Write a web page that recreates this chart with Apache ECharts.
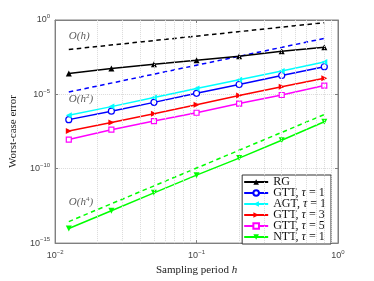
<!DOCTYPE html>
<html><head><meta charset="utf-8">
<script src="https://cdn.jsdelivr.net/npm/echarts@6/dist/echarts.min.js"></script>
<style>html,body{margin:0;padding:0;background:#fff}#c{width:374px;height:281px}</style>
</head><body><div id="c"></div>
<script>
const hValues = [0.0125, 0.025, 0.05, 0.1, 0.2, 0.4, 0.8];
const rg   = [2.5e-4, 5.4e-4, 1.07e-3, 1.95e-3, 3.7e-3, 7.9e-3, 1.45e-2];
const gtt1 = [2.0e-7, 7.4e-7, 2.9e-6, 1.17e-5, 4.6e-5, 1.86e-4, 7.2e-4];
const agt1 = [3.9e-7, 1.5e-6, 6.2e-6, 2.5e-5, 9.6e-5, 3.7e-4, 1.5e-3];
const gtt3 = [3.5e-8, 1.3e-7, 5.0e-7, 2.0e-6, 8.3e-6, 3.2e-5, 1.2e-4];
const gtt5 = [9.1e-9, 4.2e-8, 1.6e-7, 5.8e-7, 2.4e-6, 9.1e-6, 3.9e-5];
const ntt1 = [9.5e-15, 1.5e-13, 2.4e-12, 3.7e-11, 5.2e-10, 8.3e-9, 1.45e-7];
const refH   = [0.0125, 0.8];
const refOh  = [1.04e-2, 0.66];
const refOh2 = [1.44e-5, 0.058];
const refOh4 = [2.8e-14, 4.4e-7];
const minorGridX = [0.02,0.03,0.04,0.05,0.06,0.07,0.08,0.09,0.2,0.3,0.4,0.5,0.6,0.7,0.8,0.9];
const annotH = [0.0125, 0.0125, 0.0125];
const annotY = [0.08, 4.6e-6, 5.5e-13];
const annotText = ['O(h)', 'O(h{s|2})', 'O(h{s|4})'];
const legendNames = ['RG', 'GTT, τ = 1', 'AGT, τ = 1', 'GTT, τ = 3', 'GTT, τ = 5', 'NTT, τ = 1'];

const pairs = (xs, ys) => xs.map((x, i) => [x, ys[i]]);
const serif = 'Liberation Serif';
const sans = 'Liberation Sans';
const gridColor = '#dadada';
const supFmt = v => {
  const e = Math.round(Math.log10(v));
  return '{b|10}{s|' + (e < 0 ? '\u2212' + (-e) : e) + '}';
};
const tickRich = { b: { fontSize: 9, fontFamily: sans, color: '#444' }, s: { fontSize: 6, fontFamily: sans, color: '#444', padding: [0, 0, 7, 0] } };

function mainSeries(name, data, color, symbol, rot, hollow) {
  return {
    name, type: 'line', data: pairs(hValues, data), z: 4,
    symbol, symbolSize: symbol === 'rect' ? 5 : 6, symbolRotate: rot,
    lineStyle: { color, width: 1.5 },
    itemStyle: { color: hollow ? '#fff' : color, borderColor: color, borderWidth: hollow ? 1.2 : 0 },
    color, animation: false
  };
}
function refSeries(name, data, color) {
  return {
    name, type: 'line', data: pairs(refH, data), symbol: 'none', z: 3,
    lineStyle: { color, width: 1.5, type: [4.5, 3.5] }, animation: false
  };
}

const chart = echarts.init(document.getElementById('c'), null, { renderer: 'canvas' });
const blackRef = refSeries('refh', refOh, '#000');
blackRef.markLine = {
  silent: true, symbol: 'none', label: { show: false }, animation: false,
  lineStyle: { type: 'dotted', color: gridColor, width: 1 },
  data: minorGridX.map(v => ({ xAxis: v }))
};

chart.setOption({
  animation: false,
  grid: { left: 49, right: 36, top: 20, bottom: 31, show: true, borderColor: '#808080', borderWidth: 1, backgroundColor: 'transparent' },
  xAxis: [{
    type: 'log', logBase: 10, min: 0.01, max: 1,
    name: 'Sampling period {i|h}', nameLocation: 'middle', nameGap: 20,
    nameTextStyle: { fontFamily: serif, fontSize: 11, color: '#222', rich: { i: { fontFamily: serif, fontStyle: 'italic', fontSize: 11, color: '#222' } } },
    axisLine: { show: true, lineStyle: { color: '#808080' } },
    axisTick: { show: true, inside: true, length: 3, lineStyle: { color: '#808080' } },
    minorTick: { show: false },
    axisLabel: { formatter: supFmt, rich: tickRich, margin: 6 },
    splitLine: { show: true, lineStyle: { type: 'dotted', color: gridColor } }
  }, {
    type: 'log', logBase: 10, min: 0.01, max: 1, position: 'top',
    axisLine: { show: true, lineStyle: { color: '#808080' } },
    axisTick: { show: true, inside: true, length: 3, lineStyle: { color: '#808080' } },
    axisLabel: { show: false }, splitLine: { show: false }
  }],
  yAxis: [{
    type: 'log', logBase: 10, min: 1e-15, max: 1, interval: 5,
    name: 'Worst-case error', nameLocation: 'middle', nameGap: 29,
    nameTextStyle: { fontFamily: serif, fontSize: 11, color: '#222' },
    axisLine: { show: true, lineStyle: { color: '#808080' } },
    axisTick: { show: true, inside: true, length: 3, lineStyle: { color: '#808080' } },
    axisLabel: { formatter: supFmt, rich: tickRich, margin: 5 },
    splitLine: { show: true, lineStyle: { type: 'dotted', color: gridColor } }
  }, {
    type: 'log', logBase: 10, min: 1e-15, max: 1, interval: 5, position: 'right',
    axisLine: { show: true, lineStyle: { color: '#808080' } },
    axisTick: { show: true, inside: true, length: 3, lineStyle: { color: '#808080' } },
    axisLabel: { show: false }, splitLine: { show: false }
  }],
  legend: {
    data: legendNames, orient: 'vertical', right: 43, top: 175,
    backgroundColor: '#fff', borderColor: '#333', borderWidth: 1, borderRadius: 0,
    padding: [1, 5, 1, 1], itemGap: -1, itemWidth: 24, itemHeight: 7,
    textStyle: { fontFamily: serif, fontSize: 12, color: '#111', lineHeight: 11,
      rich: { i: { fontFamily: serif, fontStyle: 'italic', fontSize: 12, lineHeight: 11, color: '#111' } } },
    formatter: n => n.replace('τ', '{i|τ}')
  },
  series: [
    blackRef,
    refSeries('refh2', refOh2, '#0000ff'),
    refSeries('refh4', refOh4, '#00ff00'),
    mainSeries('RG', rg, '#000000', 'triangle', 0, false),
    mainSeries('GTT, τ = 1', gtt1, '#0000ff', 'circle', 0, true),
    mainSeries('AGT, τ = 1', agt1, '#00ffff', 'triangle', 90, false),
    mainSeries('GTT, τ = 3', gtt3, '#ff0000', 'triangle', -90, false),
    mainSeries('GTT, τ = 5', gtt5, '#ff00ff', 'rect', 0, true),
    mainSeries('NTT, τ = 1', ntt1, '#00ff00', 'triangle', 180, false),
    {
      name: 'annot', type: 'scatter', symbolSize: 0, z: 5, silent: true,
      data: annotH.map((h, i) => ({ value: [h, annotY[i]], label: { formatter: annotText[i] } })),
      label: { show: true, position: 'right', distance: 0,
        fontFamily: serif, fontStyle: 'italic', fontSize: 11, color: '#333',
        rich: { s: { fontFamily: serif, fontStyle: 'normal', fontSize: 7, color: '#333', padding: [0, 0, 7, 0] } } }
    }
  ]
});
</script></body></html>
